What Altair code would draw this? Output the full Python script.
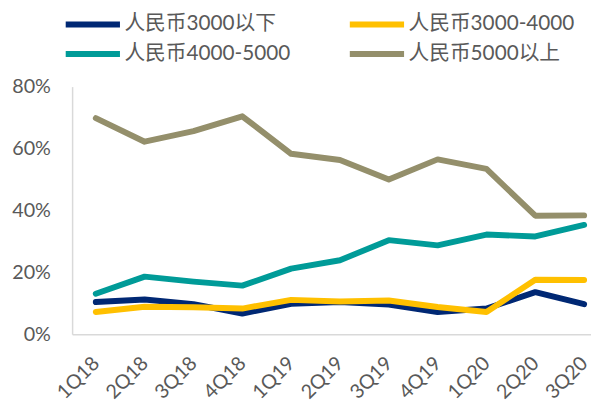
import altair as alt
import pandas as pd

quarters = ["1Q18", "2Q18", "3Q18", "4Q18", "1Q19", "2Q19", "3Q19", "4Q19", "1Q20", "2Q20", "3Q20"]
series_names = ["人民币3000以下", "人民币3000-4000", "人民币4000-5000", "人民币5000以上"]
colors = ["#002874", "#FFC000", "#009B98", "#948F6B"]

below_3000 = [0.104, 0.112, 0.097, 0.067, 0.098, 0.104, 0.096, 0.072, 0.083, 0.136, 0.097]
r3000_4000 = [0.072, 0.089, 0.087, 0.083, 0.111, 0.106, 0.109, 0.088, 0.072, 0.176, 0.175]
r4000_5000 = [0.131, 0.186, 0.170, 0.157, 0.212, 0.239, 0.304, 0.287, 0.322, 0.316, 0.353]
above_5000 = [0.698, 0.622, 0.656, 0.704, 0.583, 0.563, 0.500, 0.565, 0.534, 0.383, 0.384]

values_by_series = [below_3000, r3000_4000, r4000_5000, above_5000]

rows = []
for s_idx, (name, vals) in enumerate(zip(series_names, values_by_series)):
    for q_idx, v in enumerate(vals):
        rows.append({"series": name, "order": s_idx, "idx": q_idx, "quarter": quarters[q_idx], "value": v})
df = pd.DataFrame(rows)

label_array = "[" + ",".join("'" + q + "'" for q in quarters) + "]"

FONT = "Lato, 'Noto Sans CJK SC', sans-serif"

chart = (
    alt.Chart(df)
    .mark_line(strokeWidth=6, strokeCap="round", strokeJoin="round", clip=True)
    .encode(
        x=alt.X(
            "idx:Q",
            scale=alt.Scale(domain=[-0.485, 10.141], nice=False, zero=False),
            axis=alt.Axis(
                values=list(range(len(quarters))),
                labelExpr=label_array + "[datum.value]",
                labelAngle=-45,
                labelFontSize=20,
                labelColor="#595959",
                labelFont=FONT,
                labelPadding=19,
                labelOffset=-7,
                labelOverlap=False,
                labelBound=False,
                labelFlush=False,
                ticks=False,
                grid=False,
                domainColor="#D9D9D9",
                domainWidth=1.5,
                title=None,
            ),
        ),
        y=alt.Y(
            "value:Q",
            scale=alt.Scale(domain=[0, 0.8], nice=False),
            axis=alt.Axis(
                values=[0, 0.2, 0.4, 0.6, 0.8],
                format=".0%",
                labelFontSize=20,
                labelColor="#595959",
                labelFont=FONT,
                labelPadding=22,
                ticks=False,
                grid=False,
                domainColor="#D9D9D9",
                domainWidth=1.5,
                title=None,
            ),
        ),
        color=alt.Color(
            "series:N",
            scale=alt.Scale(domain=series_names, range=colors),
            sort=series_names,
            legend=alt.Legend(
                title=None,
                orient="none",
                legendX=7,
                legendY=-77,
                direction="horizontal",
                columns=2,
                columnPadding=47,
                rowPadding=4,
                symbolType="M-2.5,0H2.5",
                symbolSize=484,
                symbolStrokeWidth=6,
                labelFontSize=21,
                labelFont=FONT,
                labelColor="#595959",
                labelOffset=18,
                labelLimit=300,
            ),
        ),
        order=alt.Order("order:Q"),
        detail="series:N",
    )
    .properties(
        width=526,
        height=251,
        autosize=alt.AutoSizeParams(type="none"),
        padding={"left": 65, "top": 77, "right": 0, "bottom": 67},
    )
    .configure_view(stroke=None)
)

chart.save("out.html", embed_options={"renderer": "svg", "actions": False})
